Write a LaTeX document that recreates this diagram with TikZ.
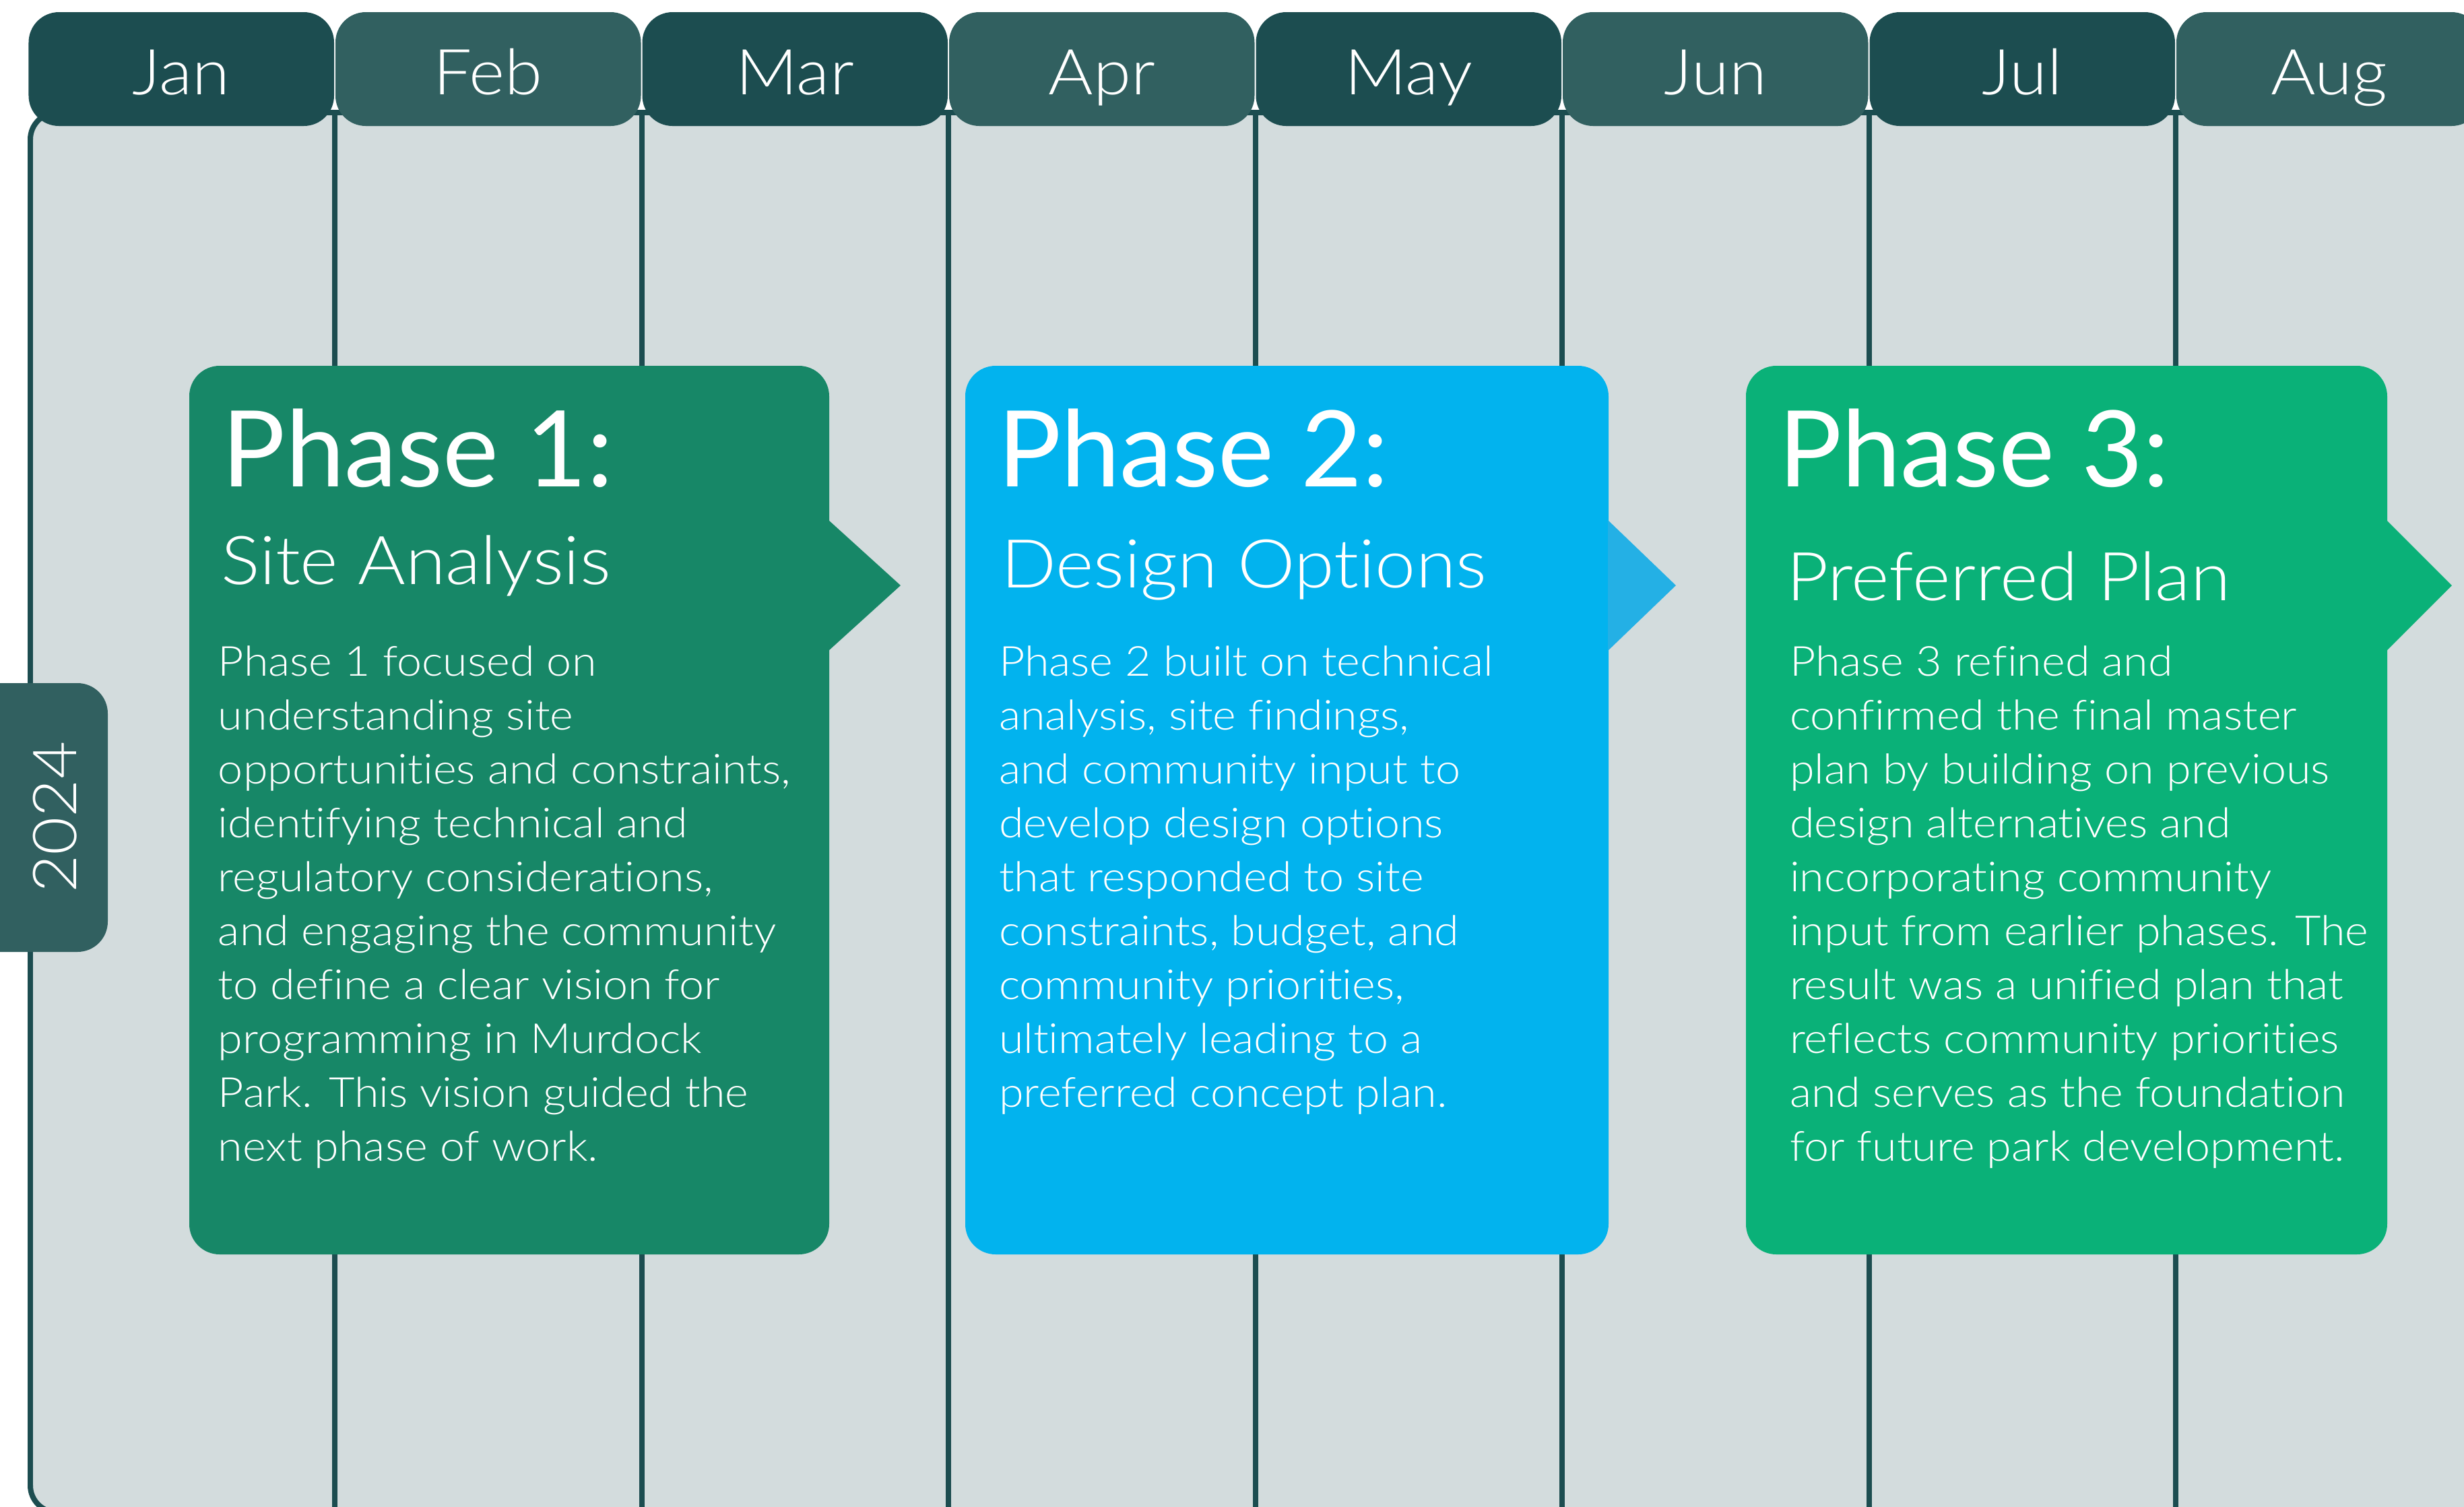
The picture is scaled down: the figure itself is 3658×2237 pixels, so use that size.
\documentclass[tikz,border=0pt]{standalone}
\usepackage{fontspec}
\usepackage{xcolor}
\setmainfont{Lato}
\newfontfamily\leger{Lato Light}[FakeStretch=1.08,Ligatures=NoCommon]
\definecolor{sapin}{HTML}{1C4D50}
\definecolor{ardoise}{HTML}{316060}
\definecolor{brume}{HTML}{D3DCDD}
\definecolor{vertA}{HTML}{178767}
\definecolor{bleuB}{HTML}{02B3EE}
\definecolor{bleuFleche}{HTML}{24B0E5}
\definecolor{vertC}{HTML}{0AB178}

\begin{document}
\begin{tikzpicture}[x=0.1pt,y=-0.1pt]
% Styles (MODIFIABLES)
\tikzstyle{onglet}=[rounded corners=4.5pt]
\tikzstyle{trait}=[draw=sapin,line width=0.8pt]
\tikzstyle{mois}=[white,inner sep=0pt,anchor=base,font=\leger\fontsize{9.4}{10}\selectfont]
\tikzstyle{annee}=[white,inner sep=0pt,rotate=90,font=\leger\fontsize{9}{10}\selectfont]
\tikzstyle{titre}=[white,inner sep=0pt,anchor=base west,font=\fontsize{15.7}{18}\selectfont]
\tikzstyle{soustitre}=[white,inner sep=0pt,anchor=base west,font=\leger\fontsize{10}{12}\selectfont]
\tikzstyle{corps}=[white,inner sep=0pt,anchor=base west,font=\leger\fontsize{6.15}{8}\selectfont]
% Dimensions (MODIFIABLES)
\def\OrigineMois{41.5}
\def\LargeurMois{455.5}
\def\HautPanneau{167}
\def\HautPhase{543}
\def\BasPhase{1862}
\def\PremiereLigne{1003}
\def\Interligne{80}
% Cadre de l'image
\useasboundingbox (0,0) rectangle (3658,2237);
\clip (0,0) rectangle (3658,2237);
% Panneau et separations des mois
\draw[trait,fill=brume,rounded corners=4pt] (45,\HautPanneau) rectangle (3720,2245);
\foreach \i in {1,...,7}
  \draw[trait] ({\OrigineMois+\i*\LargeurMois},\HautPanneau) -- ++(0,2100);
% Onglets des mois
\foreach \m/\teinte [count=\i from 0] in {Jan/sapin,Feb/ardoise,Mar/sapin,Apr/ardoise,May/sapin,Jun/ardoise,Jul/sapin,Aug/ardoise} {
  \fill[onglet,\teinte] ({\OrigineMois+\i*\LargeurMois+1},18) rectangle ++(453.5,169);
  \node[mois] (m\i) at ({\OrigineMois+(\i+0.5)*\LargeurMois},140) {\m};
}
% Onglet de l'annee
\fill[onglet,ardoise] (-50,1014) rectangle (160,1413);
\node[annee] (an) at (82,1213) {2024};
% Phases (gauche/droite/teinte/pointe/teinte de la pointe)
\foreach \g/\d/\teinte/\pointe/\teintePointe in {281/1231/vertA/1337/vertA,1433/2388/bleuB/2488/bleuFleche,2592/3544/vertC/3640/vertC} {
  \fill[onglet,\teinte] (\g,\HautPhase) rectangle (\d,\BasPhase);
  \fill[\teintePointe] (\d-1,772) -- (\pointe,869) -- (\d-1,966) -- cycle;
}
% Phase 1
\node[titre] (t1) at (328,722) {Phase 1:};
\node[soustitre] (s1) at (326,867) {Site Analysis};
\foreach \l [count=\k from 0] in {{Phase 1 focused on},{understanding site},{opportunities and constraints,},{identifying technical and},{regulatory considerations,},{and engaging the community},{to define a clear vision for},{programming in Murdock},{Park. This vision guided the},{next phase of work.}}
  \node[corps] (a\k) at (322,{\PremiereLigne+\k*\Interligne}) {\l};
% Phase 2
\node[titre] (t2) at (1479,722) {Phase 2:};
\node[soustitre] (s2) at (1484,872) {Design Options};
\foreach \l [count=\k from 0] in {{Phase 2 built on technical},{analysis, site findings,},{and community input to},{develop design options},{that responded to site},{constraints, budget, and},{community priorities,},{ultimately leading to a},{preferred concept plan.}}
  \node[corps] (b\k) at (1481,{\PremiereLigne+\k*\Interligne}) {\l};
% Phase 3
\node[titre] (t3) at (2638,722) {Phase 3:};
\node[soustitre] (s3) at (2650,891) {Preferred Plan};
\foreach \l [count=\k from 0] in {{Phase 3 refined and},{confirmed the final master},{plan by building on previous},{design alternatives and},{incorporating community},{input from earlier phases. The},{result was a unified plan that},{reflects community priorities},{and serves as the foundation},{for future park development.}}
  \node[corps] (c\k) at (2655,{\PremiereLigne+\k*\Interligne}) {\l};
\end{tikzpicture}
\end{document}
